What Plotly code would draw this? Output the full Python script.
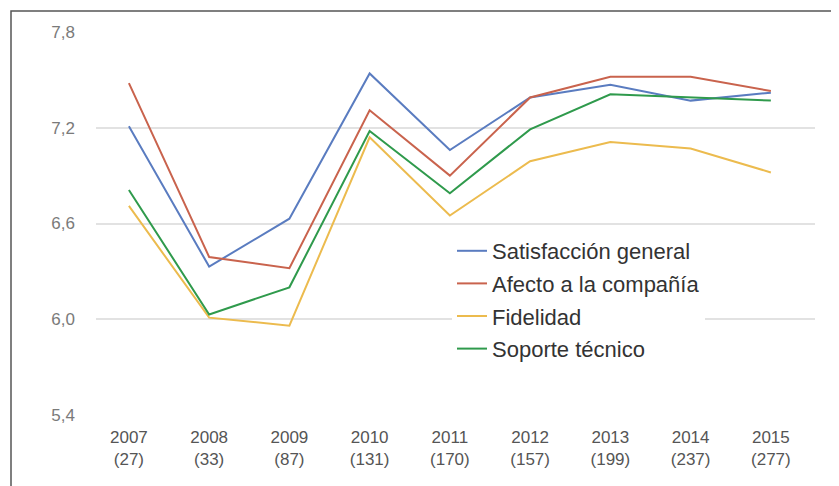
import plotly.graph_objects as go

years = ["2007", "2008", "2009", "2010", "2011", "2012", "2013", "2014", "2015"]
counts = ["27", "33", "87", "131", "170", "157", "199", "237", "277"]

satisfaccion = [7.21, 6.33, 6.63, 7.54, 7.06, 7.39, 7.47, 7.37, 7.42]
afecto = [7.48, 6.39, 6.32, 7.31, 6.90, 7.39, 7.52, 7.52, 7.43]
fidelidad = [6.71, 6.01, 5.96, 7.14, 6.65, 6.99, 7.11, 7.07, 6.92]
soporte = [6.81, 6.03, 6.20, 7.18, 6.79, 7.19, 7.41, 7.39, 7.37]

series_names = ["Satisfacción general", "Afecto a la compañía", "Fidelidad", "Soporte técnico"]
series_values = [satisfaccion, afecto, fidelidad, soporte]
colors = ["#5a7cc0", "#c9634d", "#ecbb4e", "#2f9a4c"]

y_ticks = [5.4, 6.0, 6.6, 7.2, 7.8]

tick_labels = [f"{y}<br>({c})" for y, c in zip(years, counts)]

fig = go.Figure()
for i, (name, vals, col) in enumerate(zip(series_names, series_values, colors)):
    fig.add_trace(go.Scatter(x=years, y=vals, mode="lines", name=name,
                             legendgroup=f"g{i}",
                             line=dict(color=col, width=2)))

# page body adds an 8px offset; screen coordinates are converted below
OFF = 8
W, H = 839, 486
ml, mt = 96 - OFF, 32 - OFF
pw, ph = 719, 383
mr = W - ml - pw
mb = H - mt - ph

def px_x(px):
    return (px - OFF - ml) / pw

def px_y(py):
    return 1 - (py - OFF - mt) / ph

fig.update_layout(
    width=W, height=H,
    margin=dict(l=ml, r=mr, t=mt, b=mb, pad=0, autoexpand=False),
    paper_bgcolor="white", plot_bgcolor="white",
    separators=",.",
    font=dict(family="Liberation Sans, Arial, sans-serif"),
    showlegend=True,
    legend=dict(x=px_x(452), y=px_y(230), xanchor="left", yanchor="top",
                bgcolor="white", borderwidth=0,
                font=dict(size=22, color="#333333"),
                tracegroupgap=1, itemwidth=30),
    xaxis=dict(type="category", categoryorder="array", categoryarray=years,
               range=[-0.41, 8.55], showgrid=False, zeroline=False,
               showline=False, ticks="", automargin=False,
               tickmode="array", tickvals=years, ticktext=tick_labels,
               tickfont=dict(size=17, color="#555555"),
               ticklabelstandoff=10),
    yaxis=dict(range=[5.4, 7.8], tickvals=y_ticks, tickformat=".1f",
               showgrid=True, gridcolor="#e2e2e2", gridwidth=1.5,
               zeroline=False, showline=False, ticks="", automargin=False,
               tickfont=dict(size=17, color="#7a7a7a"),
               ticklabelstandoff=20),
    shapes=[dict(type="rect", xref="paper", yref="paper",
                 x0=px_x(11), y0=px_y(560), x1=px_x(900), y1=px_y(11),
                 line=dict(color="#555555", width=1.5), fillcolor="rgba(0,0,0,0)",
                 layer="above")],
)

fig.write_html("out.html")
